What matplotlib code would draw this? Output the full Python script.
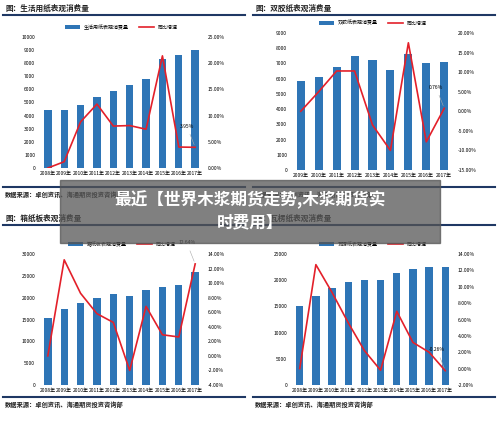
import matplotlib
matplotlib.use("Agg")
import matplotlib.pyplot as plt
from matplotlib.ticker import FuncFormatter
plt.rcParams['font.family'] = ['Noto Sans CJK SC', 'DejaVu Sans']

W, H = 500, 421
years1 = ['2008年','2009年','2010年','2011年','2012年','2013年','2014年','2015年','2016年','2017年']
years2 = years1[1:]
v1 = [4400,4450,4800,5450,5900,6350,6800,8300,8650,9000]
g1 = [0,1.2,8.8,12.2,8.0,8.1,7.4,21.4,4.0,3.95]
v2 = [5850,6100,6750,7500,7250,6550,7650,7050,7100]
g2 = [0,5,10.3,10.3,-3.5,-10,17.5,-7.8,0.76]
v3 = [15300,17300,18700,19900,20800,20400,21800,22400,23000,25900]
g3 = [0,13.2,8.6,5.8,4.6,-2,6.8,2.9,2.6,12.64]
v4 = [15100,17000,18600,19600,20100,20000,21400,22100,22500,22500]
g4 = [0,12.7,9.3,5.6,2.2,-0.2,7.0,3.2,2.0,-0.26]

panels = [
    dict(x0=0, y0=0, title='图：生活用纸表观消费量', leg='生活用纸表观消费量', years=years1, v=v1, g=g1,
         ylim=(0,10000), ystep=1000, rlim=(0,25), rstep=5, ax=(38,37,167,131), lab='3.95%', li=9),
    dict(x0=250, y0=0, title='图：双胶纸表观消费量', leg='双胶纸表观消费量', years=years2, v=v2, g=g2,
         ylim=(0,9000), ystep=1000, rlim=(-15,20), rstep=5, ax=(290,33,165,137), lab='0.76%', li=8),
    dict(x0=0, y0=210, title='图：箱纸板表观消费量', leg='箱纸板表观消费量', years=years1, v=v3, g=g3,
         ylim=(0,30000), ystep=5000, rlim=(-4,14), rstep=2, ax=(38,254,167,131), lab='12.64%', li=9),
    dict(x0=250, y0=210, title='图：瓦楞纸表观消费量', leg='瓦楞纸表观消费量', years=years1, v=v4, g=g4,
         ylim=(0,25000), ystep=5000, rlim=(-2,14), rstep=2, ax=(290,254,165,131), lab='-0.26%', li=9),
]
blue = '#2e75b6'; red = '#e3202a'; navy = '#1f3864'

fig = plt.figure(figsize=(W/100, H/100), dpi=100)
fs = 3.6
for p in panels:
    x0, y0 = p['x0'], p['y0']
    fig.text((x0+5)/W, 1-(y0+8)/H, p['title'], fontsize=5.5, fontweight='bold', va='center', color='#222')
    fig.add_artist(plt.Line2D([(x0+3)/W, (x0+245)/W], [1-(y0+15)/H]*2, color=navy, lw=1.5))
    fig.add_artist(plt.Line2D([(x0+3)/W, (x0+245)/W], [1-(y0+187)/H]*2, color=navy, lw=1.5))
    fig.text((x0+5)/W, 1-(y0+195)/H, '数据来源：卓创资讯、海通期货投资咨询部', fontsize=4.5, fontweight='bold', va='center', color='#222')
    l, t, w, h = p['ax']
    ax = fig.add_axes([l/W, 1-(t+h)/H, w/W, h/H])
    n = len(p['v'])
    xs = range(n)
    b = ax.bar(xs, p['v'], width=0.45, color=blue, label=p['leg'])
    ax.set_ylim(*p['ylim'])
    ax.set_yticks(range(p['ylim'][0], p['ylim'][1]+1, p['ystep']))
    ax.set_xticks(list(xs)); ax.set_xticklabels(p['years'])
    ax.set_xlim(-0.6, n-0.4)
    ax.tick_params(labelsize=fs, length=0, pad=2)
    for s in ax.spines.values(): s.set_visible(False)
    ax2 = ax.twinx()
    ln, = ax2.plot(xs, p['g'], color=red, lw=1.2, label='同比增速')
    ax2.set_ylim(*p['rlim'])
    ax2.set_yticks(range(p['rlim'][0], p['rlim'][1]+1, p['rstep']))
    ax2.yaxis.set_major_formatter(FuncFormatter(lambda v, _: f'{v:.2f}%'))
    ax2.tick_params(labelsize=fs, length=0, pad=2)
    for s in ax2.spines.values(): s.set_visible(False)
    i = p['li']
    ax2.annotate(p['lab'], (i, p['g'][i]), xytext=(-6, 14), textcoords='offset points',
                 fontsize=fs, ha='center', arrowprops=dict(arrowstyle='-', color='#aaa', lw=0.4))
    ax.legend([b, ln], [p['leg'], '同比增速'], loc='lower center', bbox_to_anchor=(0.5, 1.02),
              ncol=2, fontsize=fs, frameon=False, handlelength=3, columnspacing=2)

# overlay
fig.add_artist(plt.Rectangle((60/W, 1-243/H), 380/W, 63/H, transform=fig.transFigure,
                             color='#555555', alpha=0.75, zorder=10))
fig.text(250/W, 1-211/H, '最近【世界木浆期货走势,木浆期货实\n时费用】', fontsize=12, fontweight='bold',
         color='white', ha='center', va='center', zorder=11, linespacing=1.3)
fig.savefig('out.png', dpi=100)
